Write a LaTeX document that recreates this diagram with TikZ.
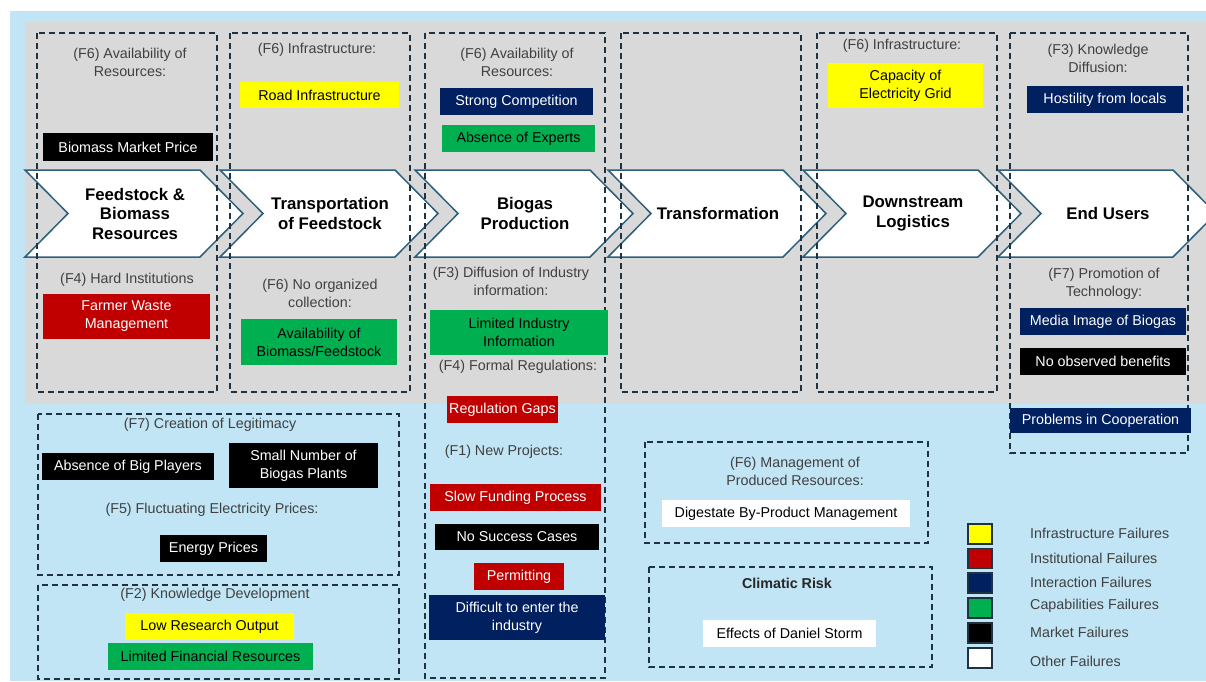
\documentclass[tikz,border=0pt]{standalone}
\usepackage{fontspec}
\setmainfont{Liberation Sans}
\definecolor{bgblue}{RGB}{193,229,245}
\definecolor{bggray}{RGB}{217,217,217}
\definecolor{dashc}{RGB}{30,50,65}
\definecolor{chevc}{RGB}{45,95,125}
\definecolor{labc}{RGB}{64,64,64}
\definecolor{infrac}{RGB}{255,255,0}
\definecolor{instc}{RGB}{192,0,0}
\definecolor{interc}{RGB}{0,32,96}
\definecolor{capc}{RGB}{0,176,80}
\newcommand{\boxfont}{\fontsize{14.3}{18}\selectfont}
\tikzset{
  dbox/.style={draw=dashc, line width=1.6pt, dash pattern=on 6pt off 4pt},
  chevline/.style={draw=chevc, fill=white, line width=1.5pt, line join=miter},
  chevtext/.style={font=\fontsize{16.8}{19.5}\selectfont\bfseries, align=center, text=black, inner sep=0pt},
  lab/.style={font=\boxfont, text=labc, align=center, inner sep=0pt},
  fb/.style={draw=none, inner sep=0pt, align=center, font=\boxfont},
  infrabox/.style={fb, fill=infrac, text=black},
  instbox/.style={fb, fill=instc, text=white},
  interbox/.style={fb, fill=interc, text=white},
  capbox/.style={fb, fill=capc, text=black},
  mktbox/.style={fb, fill=black, text=white},
  othbox/.style={fb, fill=white, text=black},
  legsq/.style={draw=dashc, line width=1.4pt, minimum width=24pt, minimum height=20pt, inner sep=0pt},
  legtext/.style={font=\boxfont, text=labc, anchor=west, inner sep=0pt}
}
\newcommand{\mychev}[3]{%
  \draw[chevline] (#1,170) -- ++(175,0) -- ++(43,43.5) -- ++(-43,43.5) -- ++(-175,0) -- ++(43,-43.5) -- cycle;
  \node[chevtext] (#2) at (#1+110,213.5) {#3};}
\newcommand{\bx}[7]{\node[#1, minimum width=#5pt, minimum height=#6pt] (#2) at (#3,#4) {#7};}
\begin{document}
\begin{tikzpicture}[x=1pt,y=-1pt]
\useasboundingbox (0,0) rectangle (1206,681);
\clip (0,0) rectangle (1206,681);
% backgrounds
\fill[bgblue] (10,11) rectangle (1206,681);
\fill[bggray] (25,22) rectangle (1206,404);
% chevrons
\mychev{25}{ch1}{Feedstock \&\\Biomass\\Resources}
\mychev{220}{ch2}{Transportation\\of Feedstock}
\mychev{415}{ch3}{Biogas\\Production}
\mychev{608}{ch4}{Transformation}
\mychev{803}{ch5}{Downstream\\Logistics}
\mychev{998}{ch6}{End Users}
% dashed column boxes
\draw[dbox] (37,33) rectangle (217,392);
\draw[dbox] (230,33) rectangle (410,392);
\draw[dbox] (425,33) rectangle (605,678);
\draw[dbox] (621,33) rectangle (801,392);
\draw[dbox] (817,33) rectangle (997,392);
\draw[dbox] (1010,33) rectangle (1188,453);
% lower dashed boxes
\draw[dbox] (38,414) rectangle (399,575);
\draw[dbox] (38,585) rectangle (399,679);
\draw[dbox] (645,442) rectangle (928,543);
\draw[dbox] (649,567) rectangle (932,667);
% column 1
\node[lab] (l1a) at (130,62.5) {(F6) Availability of\\Resources:};
\bx{mktbox}{bmp}{128}{147}{170}{28}{Biomass Market Price}
\node[lab] (l1b) at (127,280) {(F4) Hard Institutions};
\bx{instbox}{fwm}{126.5}{316.5}{167}{45}{Farmer Waste\\Management}
% column 2
\node[lab] (l2a) at (317,50) {(F6) Infrastructure:};
\bx{infrabox}{road}{319.5}{95}{159}{26}{Road Infrastructure}
\node[lab] (l2b) at (320,293.5) {(F6) No organized\\collection:};
\bx{capbox}{avail}{319}{342}{156}{46}{Availability of\\Biomass/Feedstock}
% column 3
\node[lab] (l3a) at (517,62.5) {(F6) Availability of\\Resources:};
\bx{interbox}{strong}{516.5}{101.5}{153}{27}{Strong Competition}
\bx{capbox}{absexp}{518.5}{138.5}{153}{27}{Absence of Experts}
\node[lab] (l3b) at (511,281) {(F3) Diffusion of Industry\\information:};
\bx{capbox}{limind}{519}{332.5}{178}{45}{Limited Industry\\Information}
\node[lab] (l3c) at (518,367) {(F4) Formal Regulations:};
\bx{instbox}{reggap}{502.5}{409.5}{111}{27}{Regulation Gaps}
\node[lab] (l3d) at (504,452) {(F1) New Projects:};
\bx{instbox}{slow}{515.5}{497.5}{171}{27}{Slow Funding Process}
\bx{mktbox}{nosucc}{517}{537}{164}{26}{No Success Cases}
\bx{instbox}{permit}{519}{576.5}{90}{27}{Permitting}
\bx{interbox}{diff}{517}{617.5}{176}{45}{Difficult to enter the\\industry}
% column 5
\node[lab] (l5a) at (902,46) {(F6) Infrastructure:};
\bx{infrabox}{grid}{905.5}{85.5}{155}{45}{Capacity of\\Electricity Grid}
% column 6
\node[lab] (l6a) at (1098,58) {(F3) Knowledge\\Diffusion:};
\bx{interbox}{host}{1105}{99.5}{156}{27}{Hostility from locals}
\node[lab] (l6b) at (1104,284) {(F7) Promotion of\\Technology:};
\bx{interbox}{media}{1103}{321.5}{166}{27}{Media Image of Biogas}
\bx{mktbox}{noobs}{1103}{361.5}{166}{27}{No observed benefits}
\bx{interbox}{prob}{1100.5}{420.5}{181}{25}{Problems in Cooperation}
% lower left
\node[lab] (l7) at (210,425) {(F7) Creation of Legitimacy};
\bx{mktbox}{absbig}{128}{466.5}{172}{27}{Absence of Big Players}
\bx{mktbox}{small}{303.5}{465.5}{149}{45}{Small Number of\\Biogas Plants}
\node[lab] (l5) at (212,510) {(F5) Fluctuating Electricity Prices:};
\bx{mktbox}{energy}{213.5}{548.5}{107}{27}{Energy Prices}
\node[lab] (l2) at (215,595) {(F2) Knowledge Development};
\bx{infrabox}{lowres}{209.5}{626.5}{169}{27}{Low Research Output}
\bx{capbox}{limfin}{210.5}{656.5}{205}{27}{Limited Financial Resources}
% middle lower
\node[lab] (l6m) at (795,471) {(F6) Management of\\Produced Resources:};
\bx{othbox}{dig}{786}{513.5}{248}{27}{Digestate By-Product Management}
\node[lab, font=\boxfont\bfseries, text=black!85] (clim) at (787,583) {Climatic Risk};
\bx{othbox}{storm}{789.5}{633.5}{173}{27}{Effects of Daniel Storm}
% legend
\node[legsq, fill=infrac] (sq1) at (980,534) {};
\node[legsq, fill=instc] (sq2) at (980,558.5) {};
\node[legsq, fill=interc] (sq3) at (980,583) {};
\node[legsq, fill=capc] (sq4) at (980,608) {};
\node[legsq, fill=black] (sq5) at (980,633) {};
\node[legsq, fill=white] (sq6) at (980,658) {};
\node[legtext] (t1) at (1030,533) {Infrastructure Failures};
\node[legtext] (t2) at (1030,558) {Institutional Failures};
\node[legtext] (t3) at (1030,582) {Interaction Failures};
\node[legtext] (t4) at (1030,606) {Capabilities Failures};
\node[legtext] (t5) at (1030,632) {Market Failures};
\node[legtext] (t6) at (1030,661) {Other Failures};
\end{tikzpicture}
\end{document}
